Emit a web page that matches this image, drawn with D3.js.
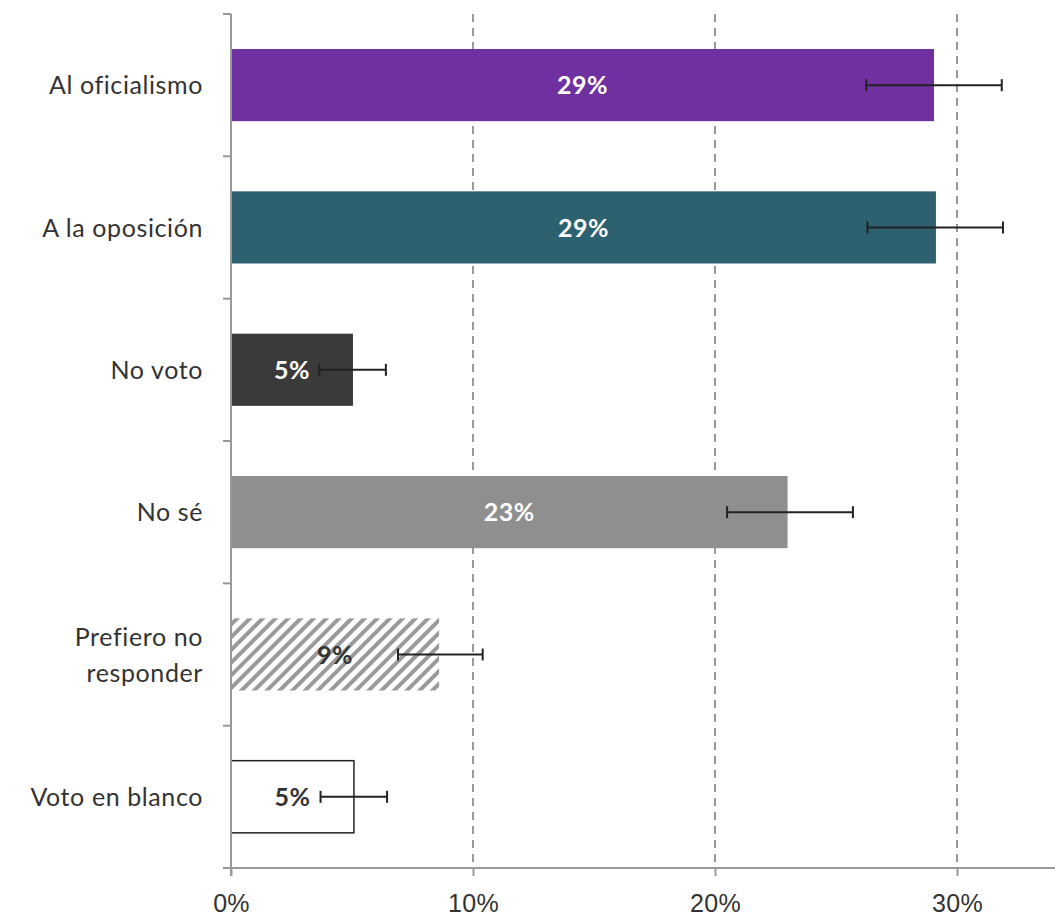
<!DOCTYPE html>
<html>
<head>
<meta charset="utf-8">
<script src="https://cdn.jsdelivr.net/npm/d3@7"></script>
<style>
  body { margin: 0; background: #fff; }
  svg { font-family: Lato, "Open Sans", sans-serif; }
  .axis path, .axis line { stroke: #999; stroke-width: 2; }
  .axis text { fill: #333; font-size: 25px; letter-spacing: 0.3px; }
</style>
</head>
<body>
<script>
// data
var categories = ["Al oficialismo", "A la oposición", "No voto", "No sé", "Prefiero no responder", "Voto en blanco"];
var values = [29.05, 29.13, 5.04, 23.0, 8.6, 5.08];
var errLow = [26.25, 26.3, 3.65, 20.5, 6.9, 3.7];
var errHigh = [31.85, 31.9, 6.4, 25.7, 10.4, 6.45];
var labels = ["29%", "29%", "5%", "23%", "9%", "5%"];
var xTicks = [0, 10, 20, 30];

var fills = ["#7030a0", "#2d6170", "#3a3a3a", "#8f8f90", "url(#hatch)", "#fff"];
var textColors = ["#fff", "#fff", "#fff", "#fff", "#333", "#333"];

var width = 1055, height = 918;
var margin = {top: 14, right: 0, bottom: 50, left: 231};

var svg = d3.select("body").append("svg")
    .attr("width", width)
    .attr("height", height);

var defs = svg.append("defs");
var pat = defs.append("pattern")
    .attr("id", "hatch")
    .attr("patternUnits", "userSpaceOnUse")
    .attr("width", 9)
    .attr("height", 9)
    .attr("patternTransform", "rotate(45)");
pat.append("rect").attr("width", 9).attr("height", 9).attr("fill", "#fff");
pat.append("rect").attr("x", 0).attr("y", 0).attr("width", 4).attr("height", 9).attr("fill", "#9a9a9a");

var x = d3.scaleLinear()
    .domain([0, 34.05])
    .range([margin.left, width - margin.right]);

var y = d3.scaleBand()
    .domain(categories)
    .range([margin.top, height - margin.bottom])
    .padding(0);

// gridlines
svg.append("g").selectAll("line")
    .data(xTicks.slice(1))
    .enter().append("line")
    .attr("x1", d => x(d)).attr("x2", d => x(d))
    .attr("y1", margin.top).attr("y2", y.range()[1])
    .attr("stroke", "#999")
    .attr("stroke-width", 2)
    .attr("stroke-dasharray", "8,6");

var rows = categories.map((c, i) => ({cat: c, v: values[i], lo: errLow[i], hi: errHigh[i], lab: labels[i], i: i}));

// bars
svg.append("g").selectAll("rect")
    .data(rows)
    .enter().append("rect")
    .attr("x", x(0))
    .attr("y", d => y(d.cat) + y.bandwidth() * 0.246)
    .attr("width", d => x(d.v) - x(0))
    .attr("height", y.bandwidth() * 0.507)
    .attr("fill", d => fills[d.i])
    .attr("stroke", d => d.i === 5 ? "#222" : "none")
    .attr("stroke-width", 1.5);

// value labels
svg.append("g").selectAll("text")
    .data(rows)
    .enter().append("text")
    .attr("x", d => (x(0) + x(d.v)) / 2)
    .attr("y", d => y(d.cat) + y.bandwidth() / 2)
    .attr("dy", "0.36em")
    .attr("text-anchor", "middle")
    .attr("font-size", 25)
    .attr("font-weight", "bold")
    .attr("letter-spacing", "0.5px")
    .attr("fill", d => textColors[d.i])
    .text(d => d.lab);

// error bars
var eb = svg.append("g").selectAll("g")
    .data(rows)
    .enter().append("g")
    .attr("stroke", "#222")
    .attr("stroke-width", 2);
eb.append("line")
    .attr("x1", d => x(d.lo)).attr("x2", d => x(d.hi))
    .attr("y1", d => y(d.cat) + y.bandwidth() / 2)
    .attr("y2", d => y(d.cat) + y.bandwidth() / 2);
eb.append("line")
    .attr("x1", d => x(d.lo)).attr("x2", d => x(d.lo))
    .attr("y1", d => y(d.cat) + y.bandwidth() / 2 - 6)
    .attr("y2", d => y(d.cat) + y.bandwidth() / 2 + 6);
eb.append("line")
    .attr("x1", d => x(d.hi)).attr("x2", d => x(d.hi))
    .attr("y1", d => y(d.cat) + y.bandwidth() / 2 - 6)
    .attr("y2", d => y(d.cat) + y.bandwidth() / 2 + 6);

// x axis
var xAxis = d3.axisBottom(x)
    .tickValues(xTicks)
    .tickSize(8)
    .tickPadding(18)
    .tickFormat(d => d + "%");
svg.append("g")
    .attr("class", "axis")
    .attr("transform", "translate(0," + y.range()[1] + ")")
    .call(xAxis)
    .call(g => g.select(".domain").attr("d", "M" + (x(0) - 8) + ",0H" + width));

// y axis: ticks at band boundaries
var yAx = svg.append("g").attr("class", "axis");
yAx.append("line")
    .attr("x1", x(0)).attr("x2", x(0))
    .attr("y1", margin.top).attr("y2", y.range()[1] + 8);
yAx.selectAll(".bt")
    .data(categories)
    .enter().append("line")
    .attr("class", "bt")
    .attr("x1", x(0) - 8).attr("x2", x(0))
    .attr("y1", d => y(d)).attr("y2", d => y(d));

// category labels
var catText = {"Prefiero no responder": ["Prefiero no", "responder"]};
var lab = svg.append("g").selectAll("text")
    .data(categories)
    .enter().append("text")
    .attr("x", x(0) - 28)
    .attr("y", d => y(d) + y.bandwidth() / 2)
    .attr("text-anchor", "end")
    .attr("font-size", 25)
    .attr("letter-spacing", "0.6px")
    .attr("fill", "#333");
lab.each(function(d) {
    var lines = catText[d] || [d];
    var t = d3.select(this);
    lines.forEach(function(l, k) {
        t.append("tspan")
            .attr("x", x(0) - 28)
            .attr("dy", k === 0 ? (0.36 - (lines.length - 1) * 0.72) + "em" : "1.44em")
            .text(l);
    });
});
</script>
</body>
</html>
